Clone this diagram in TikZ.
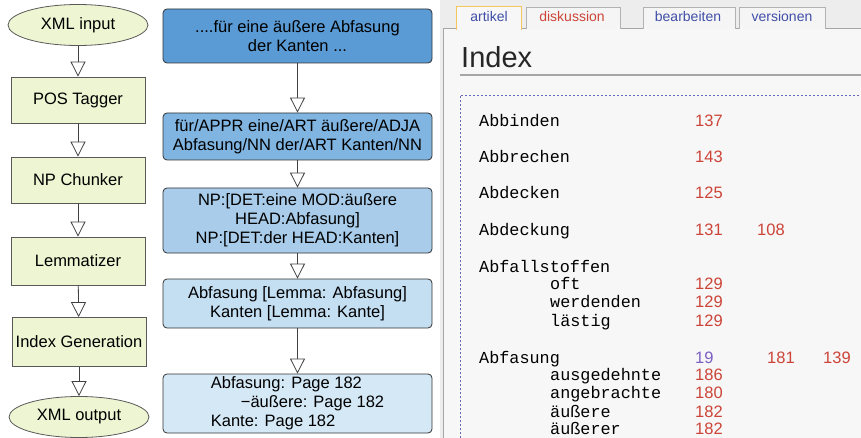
\documentclass[tikz,border=0pt]{standalone}
\usepackage{fontspec}
\setmainfont{Liberation Sans}
\newfontfamily\monofont{Liberation Mono}
\usetikzlibrary{arrows.meta, shapes.geometric}

\definecolor{stepgreen}{HTML}{EEF5D2}
\definecolor{blueA}{HTML}{5B9BD5}
\definecolor{blueB}{HTML}{80B4E1}
\definecolor{blueC}{HTML}{A8CCEA}
\definecolor{blueD}{HTML}{C4DEF2}
\definecolor{blueE}{HTML}{D5E8F6}
\definecolor{wikired}{HTML}{CC4438}
\definecolor{wikiblue}{HTML}{3F4FA8}
\definecolor{wikipurple}{HTML}{7B5FC4}
\definecolor{tabgold}{HTML}{F5C65E}

\begin{document}
\begin{tikzpicture}[x=1pt, y=-1pt,
  font=\fontsize{16.5}{19}\selectfont,
  flow/.style={-{Triangle[open, length=15pt, width=15pt]}, draw=black!75, line width=0.8pt},
  stage/.style={draw=black!65, fill=stepgreen, line width=0.8pt, minimum width=134pt, inner sep=0pt},
  io/.style={ellipse, draw=black!65, fill=stepgreen, line width=0.8pt, minimum width=140pt, minimum height=41pt, inner sep=0pt},
  sample/.style={draw=black!80, rounded corners=4pt, line width=0.8pt, minimum width=269pt, inner sep=0pt, align=center},
  tab/.style={font=\fontsize{14}{16}\selectfont},
  word/.style={anchor=base west, inner sep=0pt, font=\monofont\fontsize{16.8}{19}\selectfont},
  page/.style={anchor=base west, inner sep=0pt, text=wikired, font=\fontsize{16.5}{19}\selectfont}]

  \useasboundingbox (0,0) rectangle (861,438);

  % ---- Pipeline ----
  \node[io] (xmlin) at (78,25) {XML input};
  \node[stage, minimum height=46pt] (tagger) at (78,100) {POS Tagger};
  \node[stage, minimum height=46pt] (chunker) at (78,180) {NP Chunker};
  \node[stage, minimum height=48pt] (lemma) at (78,261) {Lemmatizer};
  \node[stage, minimum height=49pt] (indexgen) at (79,342) {Index Generation};
  \node[io] (xmlout) at (79,417) {XML output};

  \draw[flow] (xmlin) -- (tagger);
  \draw[flow] (tagger) -- (chunker);
  \draw[flow] (chunker) -- (lemma);
  \draw[flow] (lemma) -- (indexgen);
  \draw[flow] (indexgen) -- (xmlout);

  % ---- Example sentence ----
  \node[sample, fill=blueA, minimum height=54pt] (raw) at (297.5,36)
    {....f\"ur eine \"au\ss ere Abfasung\\der Kanten ...};
  \node[sample, fill=blueB, minimum height=47pt] (tagged) at (297.5,136.5)
    {f\"ur/APPR eine/ART \"au\ss ere/ADJA\\Abfasung/NN der/ART Kanten/NN};
  \node[sample, fill=blueC, minimum height=65pt] (chunked) at (297.5,220.5)
    {NP:[DET:eine MOD:\"au\ss ere\\HEAD:Abfasung]\\NP:[DET:der HEAD:Kanten]};
  \node[sample, fill=blueD, minimum height=49pt] (lemmas) at (297.5,303.5)
    {Abfasung [Lemma: Abfasung]\\Kanten [Lemma: Kante]};
  \node[sample, fill=blueE, minimum height=59pt, align=left] (entries) at (297.5,403.5)
    {Abfasung: Page 182\\\hspace{30pt}−\"au\ss ere: Page 182\\Kante: Page 182};

  \draw[flow] (raw) -- (tagged);
  \draw[flow] (tagged) -- (chunked);
  \draw[flow] (chunked) -- (lemmas);
  \draw[flow] (lemmas) -- (entries);

  % ---- Wiki index page ----
  \fill[black!7] (440,0) rectangle (861,438);
  \fill[white!97!black] (443,29) rectangle (861,438);
  \draw[black!35, line width=1pt] (443,438) -- (443,29) -- (861,29);

  \draw[black!30, fill=white!96!black] (526,29) -- (526,7) -- (620,7) -- (620,29);
  \draw[black!30, fill=white!96!black] (643,29) -- (643,7) -- (735,7) -- (735,29);
  \draw[black!30, fill=white!96!black] (739,29) -- (739,7) -- (825,7) -- (825,29);
  \fill[white!97!black] (456,7) rectangle (521,30);
  \draw[tabgold, line width=1pt] (456,30) -- (456,7) -- (521,7) -- (521,30);

  \node[tab, text=wikiblue] (artikel) at (489,16) {artikel};
  \node[tab, text=wikired] (diskussion) at (572,16) {diskussion};
  \node[tab, text=wikiblue] (bearbeiten) at (688,16) {bearbeiten};
  \node[tab, text=wikiblue] (versionen) at (782,16) {versionen};

  \node[anchor=base west, inner sep=0pt, font=\fontsize{29}{32}\selectfont, text=black!85]
    (title) at (461,68) {Index};
  \draw[black!35, line width=1.2pt] (460,75) -- (861,75);

  \draw[blue!55!black!60, dash pattern=on 2pt off 2pt, line width=0.9pt]
    (460,438) -- (460,95) -- (861,95);

  \node[word] (w1) at (479,127) {Abbinden};
  \node[page] (p1) at (695,127) {137};
  \node[word] (w2) at (479,163) {Abbrechen};
  \node[page] (p2) at (695,163) {143};
  \node[word] (w3) at (479,199) {Abdecken};
  \node[page] (p3) at (695,199) {125};
  \node[word] (w4) at (479,236) {Abdeckung};
  \node[page] (p4) at (695,236) {131};
  \node[page] (p4b) at (757,236) {108};

  \node[word] (w5) at (479,272) {Abfallstoffen};
  \node[word] (w5a) at (550,289) {oft};
  \node[page] (p5a) at (695,289) {129};
  \node[word] (w5b) at (550,307) {werdenden};
  \node[page] (p5b) at (695,307) {129};
  \node[word] (w5c) at (550,326) {l\"astig};
  \node[page] (p5c) at (695,326) {129};

  \node[word] (w6) at (479,363) {Abfasung};
  \node[page, text=wikipurple] (p6) at (695,363) {19};
  \node[page] (p6b) at (767,363) {181};
  \node[page] (p6c) at (823,363) {139};
  \node[word] (w6a) at (550,380) {ausgedehnte};
  \node[page] (p6d) at (695,380) {186};
  \node[word] (w6b) at (550,398) {angebrachte};
  \node[page] (p6e) at (695,398) {180};
  \node[word] (w6c) at (550,417) {\"au\ss ere};
  \node[page] (p6f) at (695,417) {182};
  \node[word] (w6d) at (550,434) {\"au\ss erer};
  \node[page] (p6g) at (695,434) {182};

\end{tikzpicture}
\end{document}
